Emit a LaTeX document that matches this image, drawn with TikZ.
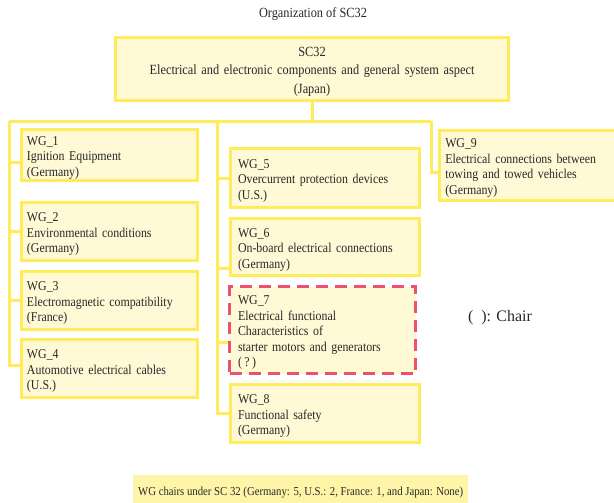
\documentclass[tikz,border=0pt]{standalone}
\usepackage{fontspec}
\setmainfont{Liberation Serif}[FakeStretch=0.88]
\newfontfamily\chairfont{Liberation Serif}
\definecolor{bordery}{RGB}{255,236,90}
\definecolor{cream}{RGB}{255,249,214}
\definecolor{notefill}{RGB}{255,245,168}
\definecolor{dashred}{RGB}{236,82,112}
\definecolor{txt}{RGB}{40,40,40}
\newcommand\wgfont{\fontsize{13.5}{15.5}\selectfont}
\newcommand\scfont{\fontsize{14}{18.5}\selectfont}
\tikzset{
  box/.style={draw=bordery, line width=3pt, fill=cream, inner ysep=0pt,
    align=left, font=\wgfont, text=txt, execute at begin node={\rule{0pt}{14pt}}},
  leftcol/.style={box, minimum width=176pt, inner xsep=5.5pt, text width=165pt},
  midcol/.style={box, minimum width=189pt, inner xsep=7.5pt, text width=174pt},
  link/.style={draw=bordery, line width=3pt},
}
\begin{document}
\begin{tikzpicture}[x=1pt,y=-1pt]
\useasboundingbox (0,0) rectangle (614,503);
% title
\node[font=\scfont, text=txt] (title) at (313,14.5) {Organization of SC32};
% top box
\node[box, align=center, font=\scfont, minimum width=393pt, minimum height=63pt, text width=380pt] (sc) at (312,69)
  {SC32\\Electrical and electronic components and general system aspect\\(Japan)};
% left column
\node[leftcol, minimum height=51pt] (wg1) at (109.5,155) {WG\_1\\Ignition Equipment\\(Germany)};
\node[leftcol, minimum height=58pt] (wg2) at (109.5,231.5) {WG\_2\\Environmental conditions\\(Germany)};
\node[leftcol, minimum height=58pt] (wg3) at (109.5,300.5) {WG\_3\\Electromagnetic compatibility\\(France)};
\node[leftcol, minimum height=58pt] (wg4) at (109.5,368.5) {WG\_4\\Automotive electrical cables\\(U.S.)};
% middle column
\node[midcol, minimum height=59pt] (wg5) at (325,178) {WG\_5\\Overcurrent protection devices\\(U.S.)};
\node[midcol, minimum height=57pt] (wg6) at (325,247) {WG\_6\\On-board electrical connections\\(Germany)};
\node[midcol, draw=dashred, dash pattern=on 12pt off 7pt, minimum width=186pt, minimum height=87pt, inner xsep=8.5pt, text width=169pt] (wg7) at (322.5,330)
  {WG\_7\\Electrical functional\\Characteristics of\\starter motors and generators\\(\hspace{2.5pt}?\hspace{2.5pt})};
\node[midcol, minimum height=58pt] (wg8) at (325,413.5) {WG\_8\\Functional safety\\(Germany)};
% right column
\node[box, minimum width=177.5pt, minimum height=70pt, inner xsep=5.5pt, text width=166pt] (wg9) at (528.25,165.5)
  {WG\_9\\Electrical connections between\\towing and towed vehicles\\(Germany)};
% legend
\node[anchor=west, text=txt, font=\chairfont\fontsize{16}{18}\selectfont] (chair) at (464.5,318) {(\hspace{8pt}): Chair};
% note
\node[fill=notefill, minimum width=335pt, minimum height=35pt, anchor=north west, text=txt,
  font=\fontsize{12.2}{15}\selectfont] (note) at (133,475)
  {WG chairs under SC 32 (Germany: 5, U.S.: 2, France: 1, and Japan: None)};
% connectors
\coordinate (hub) at (312,121.5);
\coordinate (lt) at (9,121.5);
\coordinate (mt) at (217,121.5);
\coordinate (rt) at (431,121.5);
\draw[link] (sc.south) -- (hub);
\draw[link] (lt) -- (rt);
\draw[link] (lt) |- ([yshift=3pt]wg4.west);
\draw[link] (lt |- 0,162) -- ([yshift=-7pt]wg1.west);
\draw[link] (lt |- wg2.west) -- (wg2.west);
\draw[link] (lt |- wg3.west) -- (wg3.west);
\draw[link] (mt) |- (wg8.west);
\draw[link] (mt |- wg5.west) -- (wg5.west);
\draw[link] (mt |- 0,268) -- ([yshift=-21pt]wg6.west);
\draw[link] (mt |- 0,342.5) -- ([yshift=-12.5pt]wg7.west);
\draw[link] (rt) |- ([yshift=-6.5pt]wg9.west);
\end{tikzpicture}
\end{document}
